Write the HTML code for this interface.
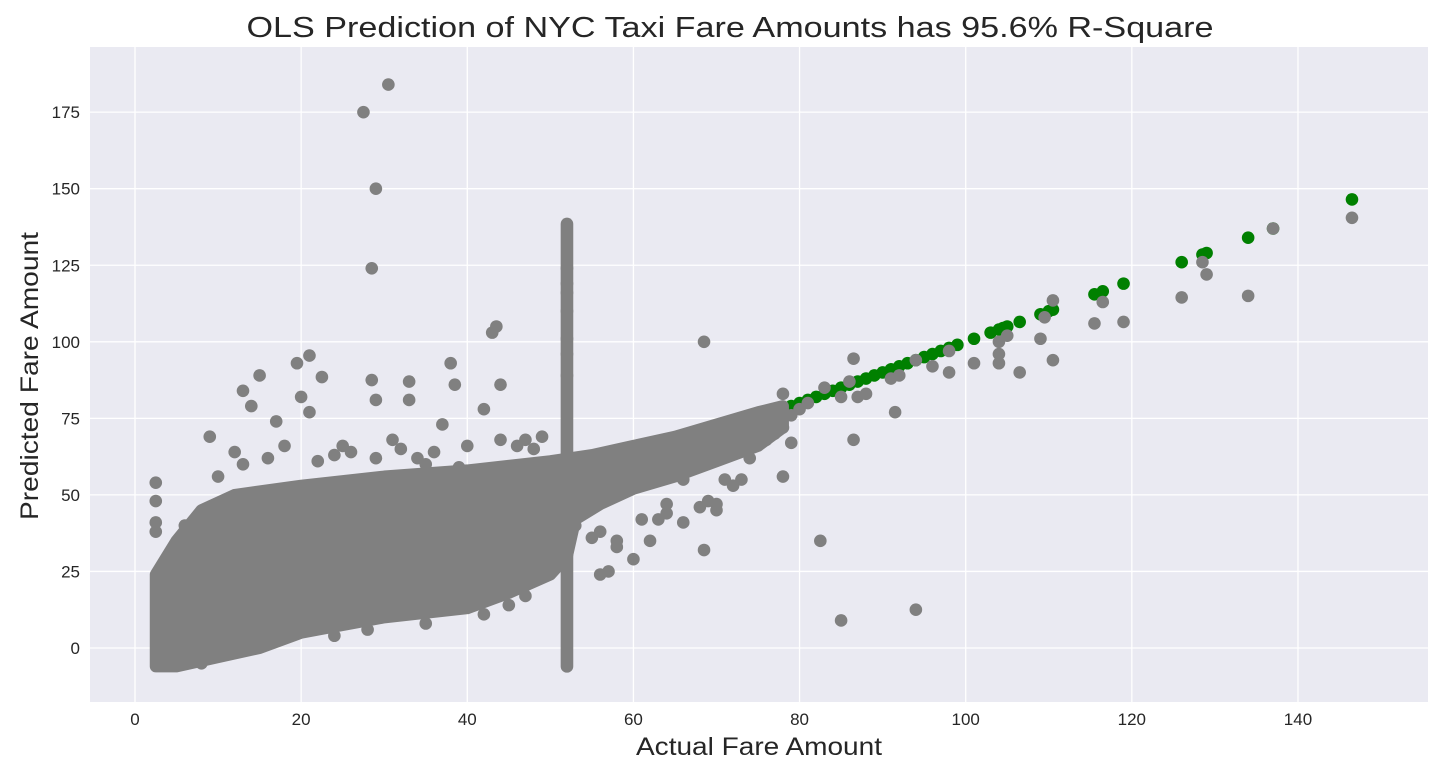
<!DOCTYPE html>
<html><head><meta charset="utf-8">
<style>
html,body{margin:0;padding:0;background:#fff;}
body{width:1442px;height:776px;overflow:hidden;font-family:"Liberation Sans",sans-serif;}
</style></head>
<body>
<svg id="chart" width="1442" height="776" xmlns="http://www.w3.org/2000/svg">
<rect x="90" y="47" width="1338" height="655" fill="#eaeaf2"/>
<g id="grid"></g>
<g id="marks"></g>
<g id="ticks"></g>
<text x="730" y="37" text-anchor="middle" font-size="29" textLength="967" lengthAdjust="spacingAndGlyphs" fill="#262626">OLS Prediction of NYC Taxi Fare Amounts has 95.6% R-Square</text>
<text x="759" y="755" text-anchor="middle" font-size="25" textLength="246" lengthAdjust="spacingAndGlyphs" fill="#262626">Actual Fare Amount</text>
<text transform="translate(38,376) rotate(-90)" text-anchor="middle" font-size="25" textLength="288" lengthAdjust="spacingAndGlyphs" fill="#262626">Predicted Fare Amount</text>
</svg>
<script>
const xTicks=[0,20,40,60,80,100,120,140];
const yTicks=[0,25,50,75,100,125,150,175];
// dense region outline (actual, predicted)
const blobX=[2.5,2.5,5,8,12,20,30,40,50,55,60,65,70,75,78,78,75,70,65,60,56,53,52,50,45,40,30,20,15,10,5];
const blobY=[-6,24,35,45,50,53,56,58,61,63,66,69,73,77,79,72,66,61,56,52,47,42,30,24,18,13,10,5,0,-3,-6];
// vertical cluster at x=52
const vlineX=[52];
const vlineLo=[-6];
const vlineHi=[138.5];
const greenX=[71,72,74,75.5,77,78,79,80,81,82,83,84,85,86,87,88,89,90,91,92,93,94,95,96,97,98,99,101,103,104,104.5,105,106.5,109,110,110.5,115.5,116.5,119,126,128.5,129,134,137,146.5];
const greenY=[71,72,74,75.5,77,78,79,80,81,82,83,84,85,86,87,88,89,90,91,92,93,94,95,96,97,98,99,101,103,104,104.5,105,106.5,109,110,110.5,115.5,116.5,119,126,128.5,129,134,137,146.5];
const grayX=[27.5,30.5,29,28.5,68.5,85,94,82.5,68.5,78,86.5,91.5,21,19.5,13,15,43,43.5,38,38.5,44,33,28.5,29,33,22.5,2.5,2.5,2.5,2.5,9,12,14,17,20,21,25,31,35,37,39,42,47,49,52,52,52,52,52,52,52,137,146.5,134,129,128.5,126,119,116.5,115.5,110.5,110.5,109.5,109,106.5,105,104,104,104,101,98,98,96,94,92,91,88,87,86.5,86,85,83,81,80,79,78,78,77,79,76,74,73,72,71,69,70,66,64,63,60,58,57,56,62,53,55,
 10,13,16,18,22,24,26,29,32,34,36,40,44,46,48,6,8,11,4,7,3,24,28,35,42,45,47,56,58,61,64,66,68,70];
const grayY=[175,184,150,124,100,9,12.5,35,32,56,68,77,95.5,93,84,89,103,105,93,86,86,87,87.5,81,81,88.5,54,48,41,38,69,64,79,74,82,77,66,68,60,73,59,78,68,69,124,119,116,110,101,96,89,137,140.5,115,122,126,114.5,106.5,113,106,113.5,94,108,101,90,102,96,93,100,93,90,97,92,94,89,88,83,82,94.5,87,82,85,80,78,76,83,72,70,67,68,62,55,53,55,48,45,55,47,42,29,33,25,24,35,40,36,
 56,60,62,66,61,63,64,62,65,62,64,66,68,66,65,40,-5,-2,-5,-4,-3,4,6,8,11,14,17,38,35,42,44,41,46,47];
const X0=90,X1=1428,Y0=47,Y1=702;
const sx=v=>135+v*8.307;
const sy=v=>648-v*3.062;
const NS="http://www.w3.org/2000/svg";
const grid=document.getElementById('grid'),marks=document.getElementById('marks'),ticks=document.getElementById('ticks');
function mk(tag,a,p){const e=document.createElementNS(NS,tag);for(const k in a)e.setAttribute(k,a[k]);p.appendChild(e);return e;}
xTicks.forEach(t=>{
 const g=mk('line',{x1:sx(t),x2:sx(t),y1:Y0,y2:Y1,stroke:'#fff','stroke-width':1.3},grid);
 
 
 const l=mk('text',{x:sx(t),y:725,'text-anchor':'middle','font-size':17,fill:'#262626'},ticks);
 l.textContent=t;
 
 
});
yTicks.forEach(t=>{
 const g=mk('line',{x1:X0,x2:X1,y1:sy(t),y2:sy(t),stroke:'#fff','stroke-width':1.3},grid);
 
 
 const l=mk('text',{x:80,y:sy(t)+6,'text-anchor':'end','font-size':17,fill:'#262626'},ticks);
 l.textContent=t;
 
 
});
greenX.forEach((v,i)=>{
 const c=mk('circle',{cx:sx(v),cy:sy(greenY[i]),r:6.3,fill:'#008000'},marks);
 
 
});
const pts=blobX.map((v,i)=>sx(v)+','+sy(blobY[i])).join(' ');
const b=mk('polygon',{points:pts,fill:'#808080',stroke:'#808080','stroke-width':12,'stroke-linejoin':'round'},marks);


vlineX.forEach((v,i)=>{
 const l=mk('line',{x1:sx(v),x2:sx(v),y1:sy(vlineLo[i]),y2:sy(vlineHi[i]),stroke:'#808080','stroke-width':12.6,'stroke-linecap':'round'},marks);
 
 
});
grayX.forEach((v,i)=>{
 const c=mk('circle',{cx:sx(v),cy:sy(grayY[i]),r:6.3,fill:'#808080'},marks);
 
 
});
</script>
</body></html>
